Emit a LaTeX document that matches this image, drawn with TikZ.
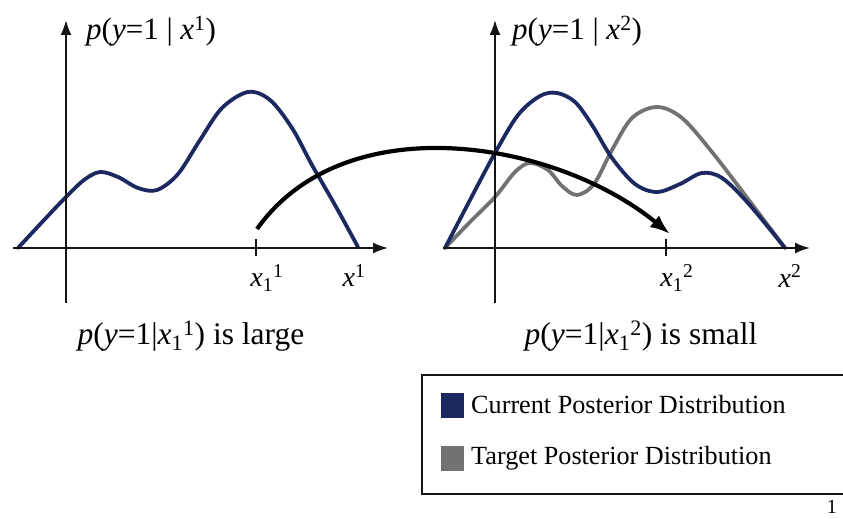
\documentclass[tikz,border=0pt]{standalone}
\usepackage{fontspec}
\setmainfont{Liberation Serif}
\usetikzlibrary{arrows.meta}
\definecolor{postblue}{HTML}{1C2860}
\definecolor{postgray}{HTML}{727272}
\definecolor{axisink}{HTML}{141414}

\begin{document}
\begin{tikzpicture}[
  x=1pt, y=-1pt,
  axis/.style={draw=axisink, line width=2pt, -{Latex[length=15pt,width=11pt]}},
  tickmark/.style={draw=axisink, line width=1.3pt},
  current/.style={draw=postblue, line width=3.8pt, line join=round, line cap=round},
  target/.style={draw=postgray, line width=3.8pt, line join=round, line cap=round},
  move/.style={draw=black, line width=4.2pt, -{Latex[length=20pt,width=15pt]}},
  title/.style={inner sep=0pt, font=\fontsize{31}{34}\selectfont},
  ticklab/.style={inner sep=0pt, font=\fontsize{28}{30}\selectfont},
  caption/.style={inner sep=0pt, font=\fontsize{31.5}{34}\selectfont},
  legtext/.style={anchor=west, inner sep=0pt, font=\fontsize{26.2}{29}\selectfont},
  legkey/.style={minimum width=23pt, minimum height=25pt, inner sep=0pt},
]
\useasboundingbox (0,0) rectangle (843,519);

% ---- axes coordinates ----
\def\yX{248}
\coordinate (xl1) at (13,\yX);  \coordinate (xr1) at (388,\yX);
\coordinate (yb1) at (66,303);  \coordinate (yt1) at (66,20);
\coordinate (xl2) at (443,\yX); \coordinate (xr2) at (810,\yX);
\coordinate (yb2) at (495,303); \coordinate (yt2) at (495,20);

% ---- left plot ----
\draw[current] plot[smooth, tension=0.55] coordinates {
  (18,248) (45,219) (66,197) (84,180) (100,172) (118,177) (138,188) (157,190)
  (178,174) (200,140) (222,108) (248,92) (270,100) (292,128) (312,165) (335,205) (358,247)};
\draw[axis] (xl1) -- (xr1);
\draw[axis] (yb1) -- (yt1);
\coordinate (t1a) at (256,239); \coordinate (t1b) at (256,256);
\draw[tickmark] (t1a) -- (t1b);

\node[title, anchor=west] (tit1) at (86,31) {\textit{p}(\textit{y}=1 | \textit{x}\textsuperscript{1})};
\node[ticklab] (lx11) at (267,278) {\textit{x}\textsubscript{1}\textsuperscript{1}};
\node[ticklab] (lx1) at (354,276) {\textit{x}\textsuperscript{1}};

% ---- right plot ----
\draw[target] plot[smooth, tension=0.55] coordinates {
  (445,248) (470,222) (495,197) (515,172) (530,163) (548,170) (562,186) (577,195)
  (594,184) (612,150) (632,118) (657,107) (682,118) (712,152) (745,195) (785,248)};
\draw[current] plot[smooth, tension=0.55] coordinates {
  (445,248) (470,200) (495,153) (518,115) (540,96) (557,93) (575,102) (592,125)
  (612,158) (635,184) (657,192) (680,184) (702,173) (722,178) (748,203) (785,248)};
\draw[axis] (xl2) -- (xr2);
\draw[axis] (yb2) -- (yt2);
\coordinate (t2a) at (666,239); \coordinate (t2b) at (666,256);
\draw[tickmark] (t2a) -- (t2b);

\node[title, anchor=west] (tit2) at (512,31) {\textit{p}(\textit{y}=1 | \textit{x}\textsuperscript{2})};
\node[ticklab] (lx12) at (677,278) {\textit{x}\textsubscript{1}\textsuperscript{2}};
\node[ticklab] (lx2) at (790,276) {\textit{x}\textsuperscript{2}};

% ---- move from x_1^1 to x_1^2 ----
\coordinate (arcstart) at (257,229);
\coordinate (arcend) at (670,234);
\draw[move] (arcstart) .. controls (345,105) and (555,140) .. (arcend);

% ---- captions ----
\node[caption] (cap1) at (191,336) {\textit{p}(\textit{y}=1|\textit{x}\textsubscript{1}\textsuperscript{1}) is large};
\node[caption] (cap2) at (641,336) {\textit{p}(\textit{y}=1|\textit{x}\textsubscript{1}\textsuperscript{2}) is small};

% ---- legend (open at the right edge) ----
\draw[line width=1.5pt, draw=axisink] (850,375) -- (422,375) -- (422,494) -- (850,494);
\node[legkey, fill=postblue] (keycur) at (452,405) {};
\node[legkey, fill=postgray] (keytar) at (452,458) {};
\node[legtext] (legcur) at (471,405) {Current Posterior Distribution};
\node[legtext] (legtar) at (471,458) {Target Posterior Distribution};

\node[anchor=south east, inner sep=0pt, font=\fontsize{20}{22}\selectfont] (pagenum) at (837,514) {1};
\end{tikzpicture}
\end{document}
